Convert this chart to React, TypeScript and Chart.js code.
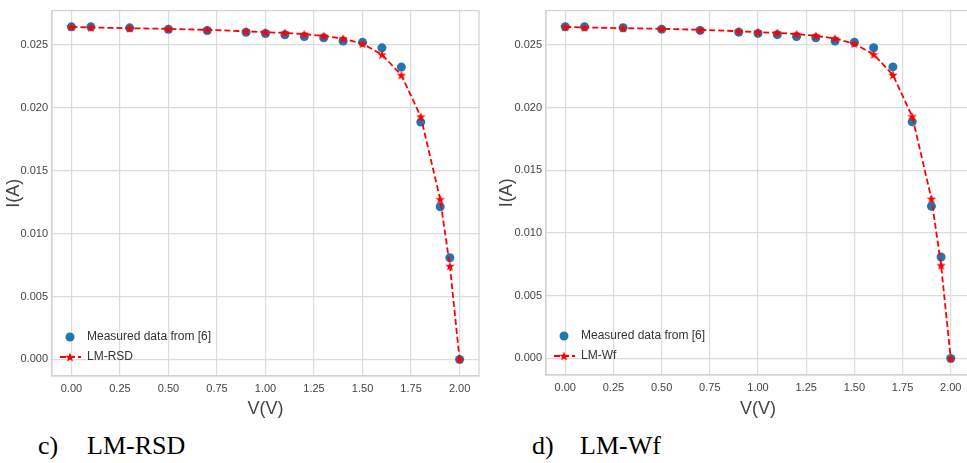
import React, { useEffect, useRef } from 'react';
import { Chart, registerables } from 'chart.js';

Chart.register(...registerables);

// ---- data ----
const voltage = [0, 0.1, 0.3, 0.5, 0.7, 0.9, 1.0, 1.1, 1.2, 1.3, 1.4, 1.5, 1.6, 1.7, 1.8, 1.9, 1.95, 2.0];
const measuredCurrent = [0.02643, 0.02643, 0.02635, 0.02624, 0.02614, 0.026, 0.0259, 0.0258, 0.02566, 0.02556, 0.0253, 0.0252, 0.02476, 0.02323, 0.01886, 0.01213, 0.00808, 0.0];
const lmRsdCurrent = [0.02643, 0.02638, 0.02632, 0.02627, 0.02619, 0.02608, 0.026, 0.02595, 0.02585, 0.02571, 0.0255, 0.02508, 0.02423, 0.02259, 0.01929, 0.01272, 0.00742, 0.0];
const lmWfCurrent = [0.02643, 0.02638, 0.02632, 0.02627, 0.02619, 0.02608, 0.026, 0.02595, 0.02585, 0.02571, 0.0255, 0.02508, 0.02423, 0.02259, 0.01929, 0.01272, 0.00742, 0.0];
const measuredLabel = 'Measured data from [6]';
const modelLabels = ['LM-RSD', 'LM-Wf'];
const captionLetters = ['c)', 'd)'];
const xAxisTitle = 'V(V)';
const yAxisTitle = 'I(A)';
const xLimits = [-0.1, 2.1];
const yLimits = [-0.00132, 0.02772];
const xStep = 0.25;
const yStep = 0.005;

const SANS = "'Liberation Sans Narrow', 'Liberation Sans', Arial, sans-serif";
const SERIF = "'Liberation Serif', 'Times New Roman', serif";
const BLUE = '#1f77b4';
const RED = '#ff0000';

function makeStar(size: number, color: string) {
  const c = document.createElement('canvas');
  c.width = size;
  c.height = size;
  const ctx = c.getContext('2d')!;
  const cx = size / 2;
  const cy = size / 2 + 0.4;
  const R = size / 2;
  const r = R * 0.42;
  ctx.beginPath();
  for (let i = 0; i < 10; i++) {
    const rad = i % 2 === 0 ? R : r;
    const a = -Math.PI / 2 + (i * Math.PI) / 5;
    const px = cx + rad * Math.cos(a);
    const py = cy + rad * Math.sin(a);
    if (i === 0) ctx.moveTo(px, py);
    else ctx.lineTo(px, py);
  }
  ctx.closePath();
  ctx.fillStyle = color;
  ctx.fill();
  return c;
}

const framePlugin = {
  id: 'frame',
  beforeDatasetsDraw(chart: any) {
    const { ctx, chartArea } = chart;
    ctx.save();
    ctx.strokeStyle = '#d2d2d2';
    ctx.lineWidth = 1.2;
    ctx.strokeRect(chartArea.left, chartArea.top, chartArea.right - chartArea.left, chartArea.bottom - chartArea.top);
    ctx.restore();
  },
};

const insideLegend = {
  id: 'insideLegend',
  afterDatasetsDraw(chart: any) {
    const { ctx, chartArea } = chart;
    const ds = chart.data.datasets;
    const rows = [chartArea.bottom - 39, chartArea.bottom - 19];
    ctx.save();
    ds.forEach((d: any, i: number) => {
      const y = rows[i];
      const mx = chartArea.left + 18;
      if (d.showLine) {
        ctx.strokeStyle = d.borderColor;
        ctx.lineWidth = d.borderWidth;
        ctx.setLineDash(d.borderDash || []);
        ctx.beginPath();
        ctx.moveTo(chartArea.left + 8, y);
        ctx.lineTo(chartArea.left + 29, y);
        ctx.stroke();
        ctx.setLineDash([]);
        const img = d.pointStyle as HTMLCanvasElement;
        ctx.drawImage(img, mx - img.width / 2, y - img.height / 2);
      } else {
        ctx.fillStyle = d.backgroundColor;
        ctx.beginPath();
        ctx.arc(mx, y, d.pointRadius, 0, Math.PI * 2);
        ctx.fill();
      }
      ctx.fillStyle = '#333333';
      ctx.font = `12px ${SANS}`;
      ctx.textBaseline = 'middle';
      ctx.textAlign = 'left';
      ctx.fillText(d.label, chartArea.left + 35, y);
    });
    ctx.restore();
  },
};

type PanelProps = {
  left: number;
  width: number;
  height: number;
  yAxisWidth: number;
  xAxisHeight: number;
  padRight: number;
  titlePad: number;
  modelLabel: string;
  modelValues: number[];
};

function Panel(p: PanelProps) {
  const ref = useRef<HTMLCanvasElement | null>(null);
  useEffect(() => {
    if (!ref.current) return;
    const star = makeStar(10, RED);
    const chart = new Chart(ref.current, {
      type: 'scatter',
      data: {
        datasets: [
          {
            label: measuredLabel,
            data: voltage.map((v, i) => ({ x: v, y: measuredCurrent[i] })),
            backgroundColor: BLUE,
            borderColor: BLUE,
            pointRadius: 4.5,
            pointBorderWidth: 0,
            showLine: false,
            order: 1,
          } as any,
          {
            label: p.modelLabel,
            data: voltage.map((v, i) => ({ x: v, y: p.modelValues[i] })),
            borderColor: RED,
            backgroundColor: RED,
            borderWidth: 1.8,
            borderDash: [6, 3],
            pointStyle: star,
            pointRadius: 5,
            showLine: true,
            fill: false,
            tension: 0,
            order: 0,
          } as any,
        ],
      },
      options: {
        responsive: false,
        animation: false,
        devicePixelRatio: 1,
        layout: { padding: { top: 6, right: p.padRight, left: 0, bottom: 0 } },
        plugins: { legend: { display: false }, tooltip: { enabled: false } },
        scales: {
          x: {
            type: 'linear',
            min: xLimits[0],
            max: xLimits[1],
            afterFit: (s: any) => {
              s.height = p.xAxisHeight;
            },
            grid: { color: '#dcdcdc', lineWidth: 1.2, drawTicks: false },
            border: { display: true, color: '#d2d2d2', width: 1.2 },
            ticks: {
              stepSize: xStep,
              includeBounds: false,
              autoSkip: false,
              maxRotation: 0,
              padding: 6,
              color: '#444444',
              font: { size: 11, family: SANS },
              callback: (v: any) => Number(v).toFixed(2),
            },
            title: {
              display: true,
              text: xAxisTitle,
              color: '#444444',
              font: { size: 18, family: SANS },
              padding: { top: 0, bottom: 0 },
            },
          },
          y: {
            type: 'linear',
            min: yLimits[0],
            max: yLimits[1],
            afterFit: (s: any) => {
              s.width = p.yAxisWidth;
            },
            grid: { color: '#dcdcdc', lineWidth: 1.2, drawTicks: false },
            border: { display: true, color: '#d2d2d2', width: 1.2 },
            ticks: {
              stepSize: yStep,
              includeBounds: false,
              autoSkip: false,
              padding: 4,
              color: '#444444',
              font: { size: 11, family: SANS },
              callback: (v: any) => Number(v).toFixed(3),
            },
            title: {
              display: true,
              text: yAxisTitle,
              color: '#444444',
              font: { size: 18, family: SANS },
              padding: { top: p.titlePad, bottom: 0 },
            },
          },
        },
      },
      plugins: [framePlugin, insideLegend],
    });
    return () => chart.destroy();
  }, []);
  return (
    <canvas
      ref={ref}
      width={p.width}
      height={p.height}
      style={{ position: 'absolute', left: p.left, top: 0, width: p.width, height: p.height, display: 'block' }}
    />
  );
}

function Caption({ letter, name, x1, x2 }: { letter: string; name: string; x1: number; x2: number }) {
  const st: React.CSSProperties = {
    position: 'absolute',
    top: 433,
    fontFamily: SERIF,
    fontSize: 26,
    lineHeight: '26px',
    color: '#000',
    whiteSpace: 'nowrap',
  };
  return (
    <>
      <span style={{ ...st, left: x1 }}>{letter}</span>
      <span style={{ ...st, left: x2 }}>{name}</span>
    </>
  );
}

export default function App() {
  return (
    <div
      style={{
        position: 'absolute',
        left: 0,
        top: 0,
        width: 967,
        height: 463,
        overflow: 'hidden',
        background: '#ffffff',
      }}
    >
      <Panel
        left={0}
        width={490}
        height={420}
        yAxisWidth={52}
        xAxisHeight={44}
        padRight={11}
        titlePad={3}
        modelLabel={modelLabels[0]}
        modelValues={lmRsdCurrent}
      />
      <Panel
        left={490}
        width={500}
        height={420}
        yAxisWidth={56}
        xAxisHeight={45}
        padRight={20}
        titlePad={6}
        modelLabel={modelLabels[1]}
        modelValues={lmWfCurrent}
      />
      <Caption letter={captionLetters[0]} name={modelLabels[0]} x1={38} x2={87} />
      <Caption letter={captionLetters[1]} name={modelLabels[1]} x1={532} x2={580} />
    </div>
  );
}
